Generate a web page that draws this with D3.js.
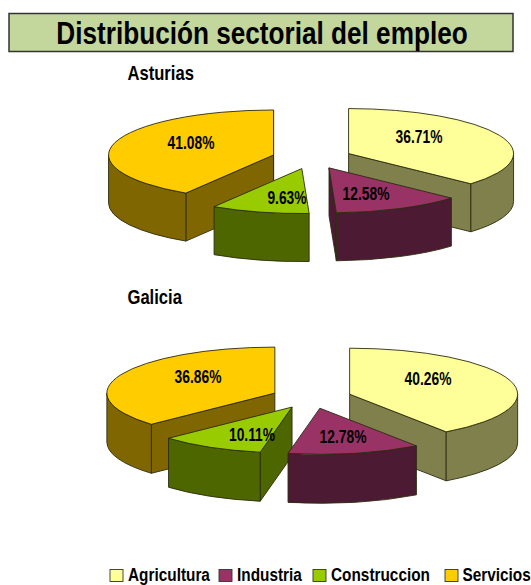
<!DOCTYPE html>
<!-- two exploded 3D pies with a shared legend -->
<html>
  <head>
    <script type="text/javascript" src="https://cdn.jsdelivr.net/npm/d3@7/dist/d3.min.js"></script>
    <style>
      html, body { margin: 0; padding: 0; background: #fff; }
      svg { display: block; }
      text { font-family: "Liberation Sans", Arial, sans-serif; font-weight: bold; fill: #000; }
      .face { stroke: #2b2b10; stroke-width: 0.9; stroke-linejoin: round; }
    </style>
  </head>
  <body>
    <div id="chart"></div>
    <script>
    //data
    var categories = ['Agricultura', 'Industria', 'Construccion', 'Servicios'];
    var asturias = [36.71, 12.58, 9.63, 41.08];
    var galicia = [40.26, 12.78, 10.11, 36.86];

    //styles
    var topColors = ['#ffff99', '#993366', '#99cc00', '#ffcc00'];
    var sideColors = ['#80804d', '#4d1a33', '#4d6600', '#806600'];
    var drawOrder = [0, 3, 2, 1]; //back slices first

    //layout
    var width = 531, height = 585;
    var explode = 40;
    var legendSwatchX = [110, 219, 313, 445];
    var legendTextX = [128, 237, 331, 462.5];
    var pies = [
      { name: 'Asturias', values: asturias, cx: 312, cy: 158, rx: 165, ry: 45, depth: 48,
        nameY: 80, labelX: [419, 366, 287, 191], labelY: [143, 200, 204, 149] },
      { name: 'Galicia', values: galicia, cx: 311.5, cy: 397.5, rx: 168, ry: 46, depth: 49,
        nameY: 304, labelX: [428, 343, 252, 198], labelY: [385, 443, 441, 383] }
    ];

    var svg = d3.select('#chart').append('svg')
      .attr('width', width)
      .attr('height', height);

    //the original type is a narrow arial, so squeeze it sideways
    function label(parent, str, x, y, size, squeeze, anchor) {
      return parent.append('text')
        .attr('transform', 'translate(' + x + ',' + y + ') scale(' + squeeze + ',1)')
        .attr('text-anchor', anchor || 'start')
        .attr('font-size', size)
        .text(str);
    }

    //title
    svg.append('rect')
      .attr('x', 9).attr('y', 13.5)
      .attr('width', 504).attr('height', 38)
      .attr('fill', '#c3d69b')
      .attr('stroke', '#333')
      .attr('stroke-width', 1.5);
    label(svg, 'Distribución sectorial del empleo', 262, 44, 30.5, 0.858, 'middle');

    var pie = d3.pie().sort(null).value(function (d) { return d; });
    var pct = d3.format('.2f');

    pies.forEach(function (p) {
      var g = svg.append('g');
      var arcs = pie(p.values);

      label(g, p.name, 127.5, p.nameY, 20, 0.83);

      drawOrder.forEach(function (i) {
        var a = arcs[i];
        var mid = (a.startAngle + a.endAngle) / 2;
        //exploded apex of the slice
        var ox = p.cx + explode * Math.sin(mid);
        var oy = p.cy - explode * Math.cos(mid) * p.ry / p.rx;
        function pt(t, z) {
          return [ox + p.rx * Math.sin(t), oy - p.ry * Math.cos(t) + (z || 0)];
        }
        function sweep(t0, t1, z) {
          var e = pt(t1, z);
          var large = t1 - t0 > Math.PI ? 1 : 0;
          return 'A' + p.rx + ',' + p.ry + ' 0 ' + large + ' 1 ' + e[0] + ',' + e[1];
        }
        function sweepBack(t1, t0, z) {
          var e = pt(t0, z);
          return 'A' + p.rx + ',' + p.ry + ' 0 0 0 ' + e[0] + ',' + e[1];
        }
        function wall(t) {
          var e = pt(t);
          return 'M' + ox + ',' + oy + 'L' + e[0] + ',' + e[1] +
            'L' + e[0] + ',' + (e[1] + p.depth) + 'L' + ox + ',' + (oy + p.depth) + 'Z';
        }
        var side = sideColors[i];

        //cut walls, only the ones that face the viewer
        if (Math.sin(a.startAngle) < 0) {
          g.append('path').attr('class', 'face').attr('fill', side).attr('d', wall(a.startAngle));
        }
        if (Math.sin(a.endAngle) > 0) {
          g.append('path').attr('class', 'face').attr('fill', side).attr('d', wall(a.endAngle));
        }
        //rim, front half of the ellipse
        var t0 = Math.max(a.startAngle, Math.PI / 2);
        var t1 = Math.min(a.endAngle, 3 * Math.PI / 2);
        if (t1 > t0) {
          var s = pt(t0), e = pt(t1, p.depth);
          g.append('path').attr('class', 'face').attr('fill', side)
            .attr('d', 'M' + s[0] + ',' + s[1] + sweep(t0, t1) +
              'L' + e[0] + ',' + e[1] + sweepBack(t1, t0, p.depth) + 'Z');
        }
        //top
        var st = pt(a.startAngle);
        g.append('path').attr('class', 'face').attr('fill', topColors[i])
          .attr('d', 'M' + ox + ',' + oy + 'L' + st[0] + ',' + st[1] +
            sweep(a.startAngle, a.endAngle) + 'Z');
      });

      //labels go over every slice
      arcs.forEach(function (a, i) {
        label(g, pct(a.data) + '%', p.labelX[i], p.labelY[i], 17.5, 0.79, 'middle');
      });
    });

    //legend, kept just above the page edge so the descenders fit
    categories.forEach(function (c, i) {
      svg.append('rect')
        .attr('x', legendSwatchX[i])
        .attr('y', 569.5)
        .attr('width', 13).attr('height', 12)
        .attr('fill', topColors[i])
        .attr('stroke', '#333')
        .attr('stroke-width', 0.9);
      label(svg, c, legendTextX[i], 581, 18.5, 0.83);
    });
    </script>
  </body>
</html>
